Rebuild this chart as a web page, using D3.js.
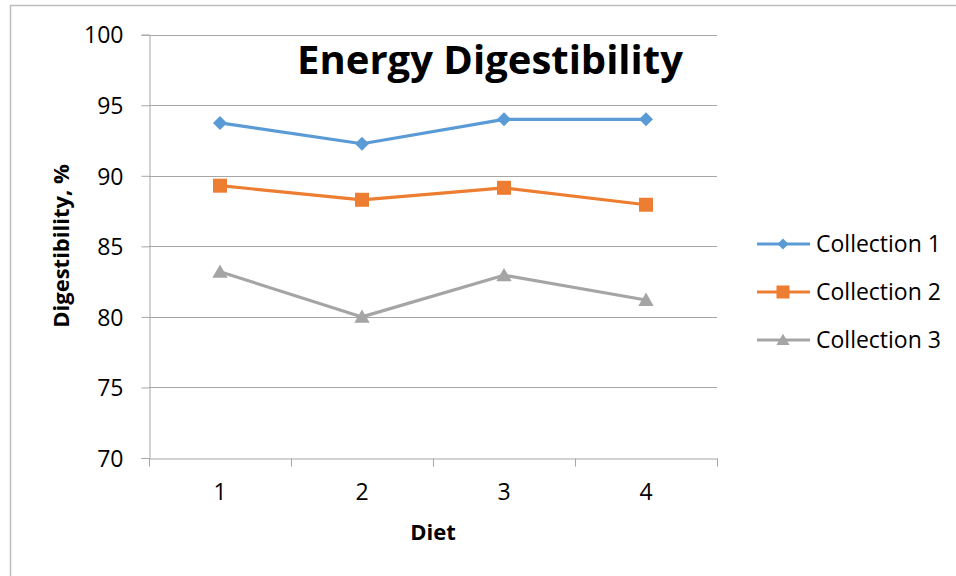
<!DOCTYPE html>
<html>
<head>
<meta charset="utf-8">
<script src="https://cdn.jsdelivr.net/npm/d3@7"></script>
<style>
  html, body { margin: 0; padding: 0; background: #fff; }
  svg { display: block; }
  text { font-family: "Open Sans", "Liberation Sans", sans-serif; fill: #000; }
</style>
</head>
<body>
<svg id="chart" width="956" height="576"></svg>
<script>
// Diet categories and digestibility (%) for each collection
const diets = ["1", "2", "3", "4"];
const collection1 = [93.75, 92.27, 94.0, 94.0];
const collection2 = [89.3, 88.3, 89.15, 87.95];
const collection3 = [83.2, 80.0, 82.95, 81.2];
const seriesNames = ["Collection 1", "Collection 2", "Collection 3"];
const yTicks = [70, 75, 80, 85, 90, 95, 100];

const series = [
  { name: seriesNames[0], values: collection1, color: "#5B9BD5", shape: "diamond" },
  { name: seriesNames[1], values: collection2, color: "#ED7D31", shape: "square" },
  { name: seriesNames[2], values: collection3, color: "#A5A5A5", shape: "triangle" }
];

const svg = d3.select("#chart");
const gridColor = "#A6A6A6";

// outer chart frame
svg.append("rect")
  .attr("x", 10.5).attr("y", 5.5)
  .attr("width", 1000).attr("height", 700)
  .attr("fill", "none").attr("stroke", "#BFBFBF").attr("stroke-width", 1.5);

const plot = { left: 149, right: 717, top: 34.7, bottom: 458 };

const x = d3.scaleBand().domain(diets).range([plot.left, plot.right]).padding(0);
const y = d3.scaleLinear().domain([70, 100]).range([plot.bottom, plot.top]);

// horizontal gridlines
svg.append("g")
  .selectAll("line")
  .data(yTicks.filter(d => d > 70))
  .join("line")
  .attr("x1", plot.left).attr("x2", plot.right)
  .attr("y1", d => Math.round(y(d)) + 0.5).attr("y2", d => Math.round(y(d)) + 0.5)
  .attr("stroke", gridColor).attr("stroke-width", 1);

// y axis
const yAxis = svg.append("g")
  .attr("transform", `translate(${plot.left + 0.5},0)`)
  .call(d3.axisLeft(y).tickValues(yTicks).tickSize(8).tickPadding(18).tickFormat(d3.format("d")));
yAxis.select(".domain").attr("stroke", gridColor);
yAxis.selectAll(".tick line").attr("stroke", gridColor);
yAxis.selectAll(".tick text")
  .attr("font-size", 23).attr("font-family", "Open Sans").attr("fill", "#000")
  .attr("dy", "0.36em");

// x axis: labels centered in each band, tick marks on band edges
const xAxis = svg.append("g")
  .attr("transform", `translate(0,${Math.round(plot.bottom) + 0.5})`)
  .call(d3.axisBottom(x).tickSize(0).tickPadding(25));
xAxis.select(".domain").attr("stroke", gridColor);
xAxis.selectAll(".tick text")
  .attr("font-size", 23).attr("font-family", "Open Sans").attr("fill", "#000");

const edges = diets.map(d => x(d)).concat([x(diets[diets.length - 1]) + x.bandwidth()]);
xAxis.append("g").selectAll("line")
  .data(edges)
  .join("line")
  .attr("x1", d => Math.round(d) + 0.5).attr("x2", d => Math.round(d) + 0.5)
  .attr("y1", 0).attr("y2", 8)
  .attr("stroke", gridColor);

// marker shapes
function markerPath(shape, s) {
  if (shape === "diamond") return `M0,${-s}L${s},0L0,${s}L${-s},0Z`;
  if (shape === "square") return `M${-s},${-s}H${s}V${s}H${-s}Z`;
  return `M0,${-s * 1.05}L${s * 1.1},${s * 0.85}L${-s * 1.1},${s * 0.85}Z`;
}

const cx = i => x(diets[i]) + x.bandwidth() / 2;
const line = d3.line().x((d, i) => cx(i)).y(d => y(d));

series.forEach(s => {
  const g = svg.append("g");
  g.append("path")
    .attr("d", line(s.values))
    .attr("fill", "none").attr("stroke", s.color)
    .attr("stroke-width", 3.2).attr("stroke-linejoin", "round");
  const size = s.shape === "diamond" ? 7 : (s.shape === "square" ? 7 : 7);
  g.selectAll("path.m")
    .data(s.values)
    .join("path")
    .attr("class", "m")
    .attr("transform", (d, i) => `translate(${cx(i)},${y(d)})`)
    .attr("d", markerPath(s.shape, size))
    .attr("fill", s.color);
});

// legend
const legend = svg.append("g");
series.forEach((s, i) => {
  const ly = 244 + i * 48;
  legend.append("line")
    .attr("x1", 757).attr("x2", 810).attr("y1", ly).attr("y2", ly)
    .attr("stroke", s.color).attr("stroke-width", 3.2);
  const size = s.shape === "diamond" ? 5.5 : (s.shape === "square" ? 6.5 : 6);
  legend.append("path")
    .attr("transform", `translate(783,${ly})`)
    .attr("d", markerPath(s.shape, size))
    .attr("fill", s.color);
  legend.append("text")
    .attr("x", 816).attr("y", ly).attr("dy", "0.36em")
    .attr("font-size", 23)
    .text(s.name);
});

// title and axis titles
svg.append("text")
  .attr("x", 490).attr("y", 74)
  .attr("text-anchor", "middle")
  .attr("font-size", 40).attr("font-weight", "bold")
  .text("Energy Digestibility");

svg.append("text")
  .attr("transform", "translate(69,246) rotate(-90)")
  .attr("text-anchor", "middle")
  .attr("font-size", 22).attr("font-weight", "bold")
  .text("Digestibility, %");

svg.append("text")
  .attr("x", 433).attr("y", 540)
  .attr("text-anchor", "middle")
  .attr("font-size", 22).attr("font-weight", "bold")
  .text("Diet");
</script>
</body>
</html>
